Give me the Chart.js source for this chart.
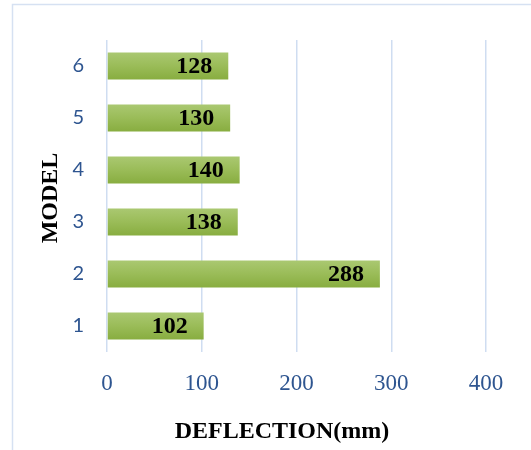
<!DOCTYPE html>
<html>
<head>
<meta charset="utf-8">
<script src="https://cdn.jsdelivr.net/npm/chart.js@4"></script>
<style>
  html, body { margin: 0; padding: 0; background: #fff; }
  #wrap { position: relative; width: 531px; height: 450px; }
</style>
</head>
<body>
<div id="wrap"><canvas id="c" width="531" height="450"></canvas></div>
<script>
// Model numbers and their deflection (mm)
const models = ['1', '2', '3', '4', '5', '6'];
const deflection = [102, 288, 138, 140, 130, 128];
const xTicks = [0, 100, 200, 300, 400];
const xTitle = 'DEFLECTION(mm)';
const yTitle = 'MODEL';

const serif = '"Liberation Serif", "Times New Roman", serif';
const tickBlue = '#2E5590';
const gridBlue = '#CFDDF1';
const barPct = 0.52;

// Light frame around the chart (left and top edges)
const framePlugin = {
  id: 'frame',
  beforeDraw(chart) {
    const ctx = chart.ctx;
    ctx.save();
    ctx.strokeStyle = '#D6E1F2';
    ctx.lineWidth = 1.5;
    ctx.beginPath();
    ctx.moveTo(12.5, chart.height + 2);
    ctx.lineTo(12.5, 4.5);
    ctx.lineTo(chart.width + 2, 4.5);
    ctx.stroke();
    ctx.restore();
  }
};

// Vertical green gradient, one per bar, spanning that bar's thickness
function barFill(c) {
  const chart = c.chart;
  const ys = chart.scales && chart.scales.y;
  if (!ys || !chart.chartArea || c.dataIndex === undefined) return '#99BB57';
  const cy = ys.getPixelForValue(c.dataIndex);
  const half = (ys.height / chart.data.labels.length) * barPct / 2;
  const g = chart.ctx.createLinearGradient(0, cy - half, 0, cy + half);
  g.addColorStop(0, '#AAC871');
  g.addColorStop(0.5, '#9ABC58');
  g.addColorStop(1, '#88AD40');
  return g;
}

// Value labels inside the end of each bar
const valueLabels = {
  id: 'valueLabels',
  afterDatasetsDraw(chart) {
    const ctx = chart.ctx;
    const meta = chart.getDatasetMeta(0);
    ctx.save();
    ctx.font = 'bold 24px ' + serif;
    ctx.fillStyle = '#000';
    ctx.textAlign = 'right';
    ctx.textBaseline = 'middle';
    meta.data.forEach((bar, i) => {
      ctx.fillText(String(chart.data.datasets[0].data[i]), bar.x - 16, bar.y + 1);
    });
    ctx.restore();
  }
};

// Axis titles
const axisTitles = {
  id: 'axisTitles',
  afterDraw(chart) {
    const ctx = chart.ctx;
    const a = chart.chartArea;
    ctx.save();
    ctx.font = 'bold 24px ' + serif;
    ctx.fillStyle = '#000';
    ctx.textAlign = 'center';
    ctx.textBaseline = 'middle';
    ctx.fillText(xTitle, a.left + 175, 432);
    ctx.translate(51, (a.top + a.bottom) / 2 + 2);
    ctx.rotate(-Math.PI / 2);
    ctx.fillText(yTitle, 0, 0);
    ctx.restore();
  }
};

new Chart(document.getElementById('c'), {
  type: 'bar',
  data: {
    labels: models,
    datasets: [{
      data: deflection,
      backgroundColor: barFill,
      borderWidth: 0,
      barPercentage: barPct,
      categoryPercentage: 1.0
    }]
  },
  plugins: [framePlugin, valueLabels, axisTitles],
  options: {
    indexAxis: 'y',
    responsive: false,
    animation: false,
    layout: { padding: { top: 40, right: 45, left: 0, bottom: 0 } },
    plugins: {
      legend: { display: false },
      tooltip: { enabled: false },
      title: { display: false }
    },
    scales: {
      x: {
        type: 'linear',
        min: xTicks[0],
        max: xTicks[xTicks.length - 1],
        afterBuildTicks(scale) { scale.ticks = xTicks.map(v => ({ value: v })); },
        afterFit(scale) { scale.height = 98; },
        grid: { color: gridBlue, lineWidth: 1.5, drawTicks: false },
        border: { display: false },
        ticks: {
          padding: 18,
          color: tickBlue,
          font: { family: serif, size: 23 }
        }
      },
      y: {
        reverse: true,
        afterFit(scale) { scale.width = 107; },
        grid: { display: false, drawTicks: false },
        border: { display: false },
        ticks: {
          padding: 23,
          color: tickBlue,
          font: { family: 'Lato, "Open Sans", sans-serif', size: 20 }
        }
      }
    }
  }
});
</script>
</body>
</html>
